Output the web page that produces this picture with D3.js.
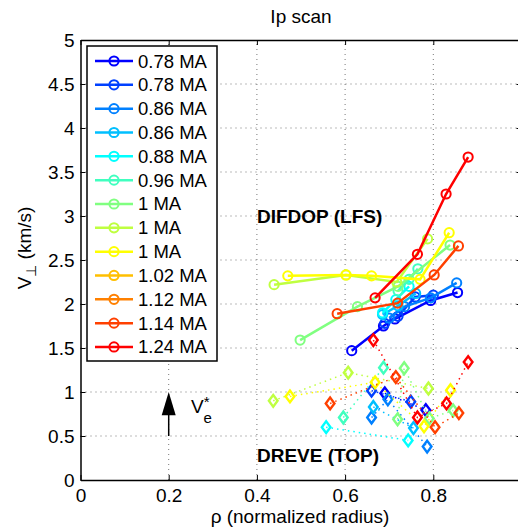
<!DOCTYPE html>
<html><head><meta charset="utf-8">
<script src="https://cdn.jsdelivr.net/npm/d3@7/dist/d3.min.js"></script>
<style>
body{margin:0;background:#fff}
text{font-family:"Liberation Sans",Arial,Helvetica,sans-serif;fill:#000}
</style>
</head><body>
<svg id="chart" width="518" height="531"></svg>
<script>
// ---- data ----
const seriesLabels = ["0.78 MA","0.78 MA","0.86 MA","0.86 MA","0.88 MA","0.96 MA","1 MA","1 MA","1 MA","1.02 MA","1.12 MA","1.14 MA","1.24 MA"];
const seriesColors = ["#0000ff","#0040ff","#0080ff","#00bfff","#00ffff","#40ffbf","#80ff80","#bfff40","#ffff00","#ffbf00","#ff8000","#ff4000","#ff0000"];

// DIFDOP (LFS) profiles: rho and V_perp per series
const lfsRho = [
  [0.615,0.687,0.713,0.794,0.855],
  [0.69,0.72,0.759,0.80],
  [0.70,0.735,0.794,0.853],
  [0.685,0.72,0.76],
  [0.685,0.715,0.745],
  [0.72,0.745,0.765],
  [0.498,0.628,0.72,0.838],
  [0.439,0.602,0.717,0.787],
  [0.47,0.602,0.66,0.77,0.836],
  [],
  [],
  [0.582,0.719,0.802,0.857],
  [0.668,0.764,0.829,0.879]
];
const lfsV = [
  [1.47,1.75,1.83,2.04,2.13],
  [1.78,1.86,2.08,2.10],
  [1.84,1.97,2.07,2.24],
  [1.88,1.98,2.12],
  [1.90,2.05,2.20],
  [2.15,2.28,2.40],
  [1.59,1.97,2.20,2.67],
  [2.22,2.33,2.25,2.74],
  [2.32,2.33,2.32,2.28,2.81],
  [],
  [],
  [1.89,2.01,2.33,2.66],
  [2.07,2.565,3.25,3.67]
];

// DREVE (TOP) profiles
const topRho = [
  [0.69,0.783],
  [0.66,0.749],
  [0.66,0.697,0.786],
  [0.664,0.755],
  [0.557,0.743],
  [0.596,0.687],
  [0.719,0.734,0.791,0.845],
  [0.437,0.607,0.789],
  [0.475,0.668,0.779,0.839],
  [],
  [],
  [0.566,0.715,0.804,0.858],
  [0.664,0.764,0.830,0.879]
];
const topV = [
  [0.985,0.795],
  [1.015,0.89],
  [0.71,0.917,0.38],
  [0.83,0.59],
  [0.60,0.45],
  [0.71,1.276],
  [0.69,1.27,0.70,0.79],
  [0.90,1.22,1.04],
  [0.95,1.11,0.61,1.02],
  [],
  [],
  [0.87,1.17,0.60,0.76],
  [1.59,0.71,0.87,1.34]
];

const xTicks = [0,0.2,0.4,0.6,0.8,1];
const yTicks = [0,0.5,1,1.5,2,2.5,3,3.5,4,4.5,5];

// ---- drawing ----
const svg = d3.select("#chart");
const x = d3.scaleLinear().domain([0,1]).range([80.5,521.5]);
const y = d3.scaleLinear().domain([0,5]).range([480,40]);

// grid
const grid = svg.append("g");
xTicks.filter(d=>d>0 && d<1).forEach(d=>{
  grid.append("line").attr("x1",x(d)).attr("x2",x(d)).attr("y1",y(0)).attr("y2",y(5))
    .attr("stroke","#777").attr("stroke-width",1).attr("stroke-dasharray","1,4");
});
yTicks.filter(d=>d>0 && d<5).forEach(d=>{
  grid.append("line").attr("x1",x(0)).attr("x2",x(1)).attr("y1",y(d)).attr("y2",y(d))
    .attr("stroke","#777").attr("stroke-width",1).attr("stroke-dasharray","1,4");
});

// axes
const fmt = d=>String(d);
const axB = svg.append("g").attr("transform",`translate(0,${y(0)})`)
  .call(d3.axisBottom(x).tickValues(xTicks.filter(d=>d<1)).tickFormat(fmt).tickSizeInner(-5).tickSizeOuter(0).tickPadding(9));
const axT = svg.append("g").attr("transform",`translate(0,${y(5)})`)
  .call(d3.axisTop(x).tickValues(xTicks).tickFormat("").tickSizeInner(-5).tickSizeOuter(0));
const axL = svg.append("g").attr("transform",`translate(${x(0)},0)`)
  .call(d3.axisLeft(y).tickValues(yTicks).tickFormat(fmt).tickSizeInner(-5).tickSizeOuter(0).tickPadding(6));
const axR = svg.append("g").attr("transform",`translate(${x(1)},0)`)
  .call(d3.axisRight(y).tickValues(yTicks).tickFormat("").tickSizeInner(-5).tickSizeOuter(0));
[axB,axT,axL,axR].forEach(a=>{
  a.select(".domain").attr("stroke","#000").attr("stroke-width",1.5);
  a.selectAll(".tick line").attr("stroke","#000").attr("stroke-width",1);
  a.selectAll("text").style("font-size","19px").style("font-family","'Liberation Sans',Arial,sans-serif").attr("fill","#000");
});

// data
const plot = svg.append("g");
const lineGen = d3.line().x(d=>x(d[0])).y(d=>y(d[1]));
seriesColors.forEach((c,i)=>{
  const top = topRho[i].map((r,j)=>[r,topV[i][j]]);
  plot.append("path").attr("d",lineGen(top)).attr("fill","none").attr("stroke",c)
    .attr("stroke-width",1.5).attr("stroke-dasharray","1.5,4");
  top.forEach(p=>{
    plot.append("path").attr("d",d3.symbol().type(d3.symbolSquare).size(52)())
      .attr("transform",`translate(${x(p[0])},${y(p[1])}) scale(0.85,1.15) rotate(45)`)
      .attr("fill","none").attr("stroke",c).attr("stroke-width",2.5);
  });
  const lfs = lfsRho[i].map((r,j)=>[r,lfsV[i][j]]);
  plot.append("path").attr("d",lineGen(lfs)).attr("fill","none").attr("stroke",c).attr("stroke-width",2.5);
  lfs.forEach(p=>{
    plot.append("circle").attr("cx",x(p[0])).attr("cy",y(p[1])).attr("r",4.6)
      .attr("fill","none").attr("stroke",c).attr("stroke-width",2);
  });
});

// legend
const lg = svg.append("g");
lg.append("rect").attr("x",87).attr("y",46).attr("width",130).attr("height",315)
  .attr("fill","#fff").attr("stroke","#000").attr("stroke-width",1.5);
seriesLabels.forEach((l,i)=>{
  const yy = 61 + i*23.83;
  lg.append("line").attr("x1",95).attr("x2",133).attr("y1",yy).attr("y2",yy)
    .attr("stroke",seriesColors[i]).attr("stroke-width",2.5);
  lg.append("circle").attr("cx",114).attr("cy",yy).attr("r",4.6).attr("fill","none")
    .attr("stroke",seriesColors[i]).attr("stroke-width",2);
  lg.append("text").attr("x",138).attr("y",yy+6.5).style("font-size","18.5px").text(l);
});

// annotations
svg.append("text").attr("x",257).attr("y",223).style("font-size","19px").style("font-weight","bold").text("DIFDOP (LFS)");
svg.append("text").attr("x",257).attr("y",462).style("font-size","19px").style("font-weight","bold").text("DREVE (TOP)");

// arrow V*e
svg.append("line").attr("x1",x(0.2)).attr("x2",x(0.2)).attr("y1",y(0.5)).attr("y2",y(0.8))
  .attr("stroke","#000").attr("stroke-width",1.5);
svg.append("path").attr("d",`M${x(0.2)},${y(1.0)} L${x(0.2)-7},${y(0.735)} L${x(0.2)+7},${y(0.735)} Z`).attr("fill","#000");
const ve = svg.append("text").attr("x",191).attr("y",413).style("font-size","19px");
ve.append("tspan").text("V");
ve.append("tspan").attr("dy",-6).style("font-size","15px").text("*");
ve.append("tspan").attr("dx",-6).attr("dy",16).style("font-size","15px").text("e");

// title & labels
svg.append("text").attr("x",301).attr("y",23).attr("text-anchor","middle").style("font-size","19px").text("Ip scan");
svg.append("text").attr("x",300).attr("y",523).attr("text-anchor","middle").style("font-size","19px").text("ρ (normalized radius)");
const yl = svg.append("text").attr("transform","translate(31,248) rotate(-90)").attr("text-anchor","middle").style("font-size","19px");
yl.append("tspan").text("V");
yl.append("tspan").attr("dy",5).style("font-size","14px").text("⊥");
yl.append("tspan").attr("dy",-5).text(" (km/s)");
</script>
</body></html>
